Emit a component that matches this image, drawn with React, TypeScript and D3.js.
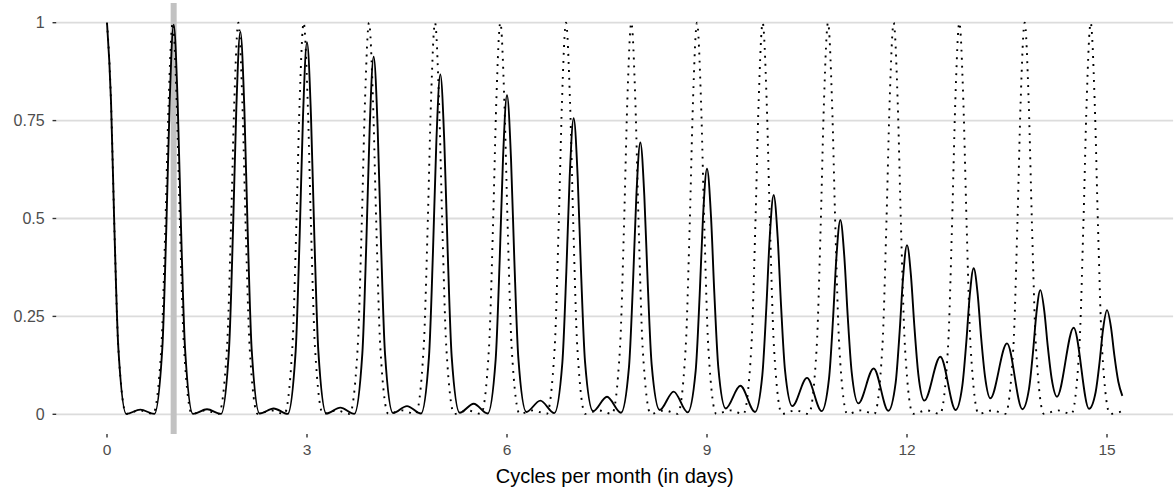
import React from "react";
import * as d3 from "d3";

const W = 1176;
const H = 490;

const xTicks = [0, 3, 6, 9, 12, 15];
const yTicks = [0, 0.25, 0.5, 0.75, 1];
const yTickLabels = ["0", "0.25", "0.5", "0.75", "1"];
const highlightX = 1;
const xTitle = "Cycles per month (in days)";
const xDataRange: [number, number] = [0, 15.23];
const yDataRange: [number, number] = [0, 1];

// solid series: points (x, value)
const solidCurve: [number, number][] = [
  [0, 1], [0.06, 0.8], [0.11, 0.48], [0.17, 0.17], [0.29, 0.001], [0.5, 0.012], [0.71, 0.001],
  [0.83, 0.17], [0.89, 0.478], [0.94, 0.796], [1, 0.995], [1.06, 0.796], [1.11, 0.478], [1.17, 0.17], [1.29, 0.001], [1.5, 0.013], [1.71, 0.001],
  [1.83, 0.166], [1.89, 0.469], [1.94, 0.782], [2, 0.977], [2.06, 0.782], [2.11, 0.469], [2.17, 0.166], [2.29, 0.002], [2.5, 0.015], [2.71, 0.001],
  [2.83, 0.162], [2.89, 0.456], [2.94, 0.76], [3, 0.95], [3.06, 0.76], [3.11, 0.456], [3.17, 0.162], [3.29, 0.002], [3.5, 0.017], [3.71, 0.001],
  [3.83, 0.155], [3.89, 0.438], [3.94, 0.73], [4, 0.913], [4.06, 0.73], [4.11, 0.438], [4.17, 0.155], [4.29, 0.003], [4.5, 0.021], [4.71, 0.002],
  [4.83, 0.148], [4.89, 0.417], [4.94, 0.694], [5, 0.868], [5.06, 0.694], [5.11, 0.417], [5.17, 0.148], [5.29, 0.004], [5.5, 0.027], [5.71, 0.002],
  [5.83, 0.14], [5.89, 0.392], [5.94, 0.652], [6, 0.815], [6.06, 0.653], [6.11, 0.394], [6.17, 0.144], [6.29, 0.006], [6.5, 0.035], [6.71, 0.003],
  [6.83, 0.131], [6.89, 0.364], [6.94, 0.605], [7, 0.756], [7.06, 0.606], [7.11, 0.367], [7.17, 0.135], [7.29, 0.008], [7.5, 0.045], [7.71, 0.004],
  [7.83, 0.121], [7.89, 0.335], [7.94, 0.556], [8, 0.694], [8.06, 0.557], [8.11, 0.339], [8.17, 0.127], [8.29, 0.011], [8.5, 0.058], [8.71, 0.005],
  [8.83, 0.111], [8.89, 0.304], [8.94, 0.503], [9, 0.627], [9.06, 0.505], [9.11, 0.309], [9.17, 0.119], [9.28, 0.015], [9.5, 0.073], [9.72, 0.006],
  [9.83, 0.1], [9.89, 0.272], [9.94, 0.449], [10, 0.56], [10.06, 0.452], [10.11, 0.28], [10.17, 0.113], [10.28, 0.021], [10.5, 0.093], [10.72, 0.008],
  [10.83, 0.091], [10.89, 0.242], [10.94, 0.398], [11, 0.496], [11.06, 0.402], [11.11, 0.253], [11.17, 0.108], [11.27, 0.028], [11.5, 0.117], [11.72, 0.009],
  [11.83, 0.081], [11.89, 0.212], [11.94, 0.347], [12, 0.432], [12.06, 0.353], [12.11, 0.226], [12.17, 0.102], [12.26, 0.035], [12.5, 0.147], [12.73, 0.011],
  [12.83, 0.073], [12.89, 0.185], [12.94, 0.301], [13, 0.373], [13.06, 0.307], [13.11, 0.2], [13.17, 0.097], [13.25, 0.041], [13.5, 0.181], [13.73, 0.013],
  [13.83, 0.065], [13.89, 0.159], [13.94, 0.256], [14, 0.317], [14.06, 0.263], [14.11, 0.176], [14.17, 0.091], [14.25, 0.045], [14.5, 0.221], [14.73, 0.014],
  [14.83, 0.057], [14.89, 0.135], [14.94, 0.216], [15, 0.266], [15.06, 0.222], [15.11, 0.151], [15.17, 0.083], [15.23, 0.047],
];

// dotted series: points (x, value)
const dottedCurve: [number, number][] = [
  [0, 1], [0.06, 0.8], [0.11, 0.48], [0.17, 0.17], [0.29, 0.001], [0.49, 0.01], [0.69, 0.001],
  [0.815, 0.17], [0.875, 0.48], [0.925, 0.8], [0.985, 1], [1.045, 0.8], [1.095, 0.48], [1.155, 0.17], [1.275, 0.001], [1.475, 0.01], [1.675, 0.001],
  [1.8, 0.17], [1.86, 0.48], [1.91, 0.8], [1.97, 1], [2.03, 0.8], [2.08, 0.48], [2.14, 0.17], [2.26, 0.001], [2.46, 0.01], [2.66, 0.001],
  [2.78, 0.17], [2.84, 0.48], [2.89, 0.8], [2.95, 1], [3.01, 0.8], [3.06, 0.48], [3.12, 0.17], [3.24, 0.001], [3.44, 0.01], [3.64, 0.001],
  [3.76, 0.17], [3.82, 0.48], [3.87, 0.8], [3.93, 1], [3.99, 0.8], [4.04, 0.48], [4.1, 0.17], [4.22, 0.001], [4.425, 0.01], [4.63, 0.001],
  [4.75, 0.17], [4.81, 0.48], [4.86, 0.8], [4.92, 1], [4.98, 0.8], [5.03, 0.48], [5.09, 0.17], [5.21, 0.001], [5.41, 0.01], [5.61, 0.001],
  [5.73, 0.17], [5.79, 0.48], [5.84, 0.8], [5.9, 1], [5.96, 0.8], [6.01, 0.48], [6.07, 0.17], [6.19, 0.001], [6.39, 0.01], [6.595, 0.001],
  [6.715, 0.17], [6.775, 0.48], [6.825, 0.8], [6.885, 1], [6.945, 0.8], [6.995, 0.48], [7.055, 0.17], [7.175, 0.001], [7.375, 0.01], [7.575, 0.001],
  [7.695, 0.17], [7.755, 0.48], [7.805, 0.8], [7.865, 1], [7.925, 0.8], [7.975, 0.48], [8.035, 0.17], [8.155, 0.001], [8.36, 0.01], [8.56, 0.001],
  [8.68, 0.17], [8.74, 0.48], [8.79, 0.8], [8.85, 1], [8.91, 0.8], [8.96, 0.48], [9.02, 0.17], [9.14, 0.001], [9.345, 0.01], [9.545, 0.001],
  [9.665, 0.17], [9.725, 0.48], [9.775, 0.8], [9.835, 1], [9.895, 0.8], [9.945, 0.48], [10.005, 0.17], [10.125, 0.001], [10.325, 0.01], [10.525, 0.001],
  [10.645, 0.17], [10.705, 0.48], [10.755, 0.8], [10.815, 1], [10.875, 0.8], [10.925, 0.48], [10.985, 0.17], [11.105, 0.001], [11.31, 0.01], [11.51, 0.001],
  [11.63, 0.17], [11.69, 0.48], [11.74, 0.8], [11.8, 1], [11.86, 0.8], [11.91, 0.48], [11.97, 0.17], [12.09, 0.001], [12.295, 0.01], [12.495, 0.001],
  [12.615, 0.17], [12.675, 0.48], [12.725, 0.8], [12.785, 1], [12.845, 0.8], [12.895, 0.48], [12.955, 0.17], [13.075, 0.001], [13.275, 0.01], [13.475, 0.001],
  [13.595, 0.17], [13.655, 0.48], [13.705, 0.8], [13.765, 1], [13.825, 0.8], [13.875, 0.48], [13.935, 0.17], [14.055, 0.001], [14.26, 0.01], [14.465, 0.001],
  [14.585, 0.17], [14.645, 0.48], [14.695, 0.8], [14.755, 1], [14.815, 0.8], [14.865, 0.48], [14.925, 0.17], [15.045, 0.001], [15.23, 0.008],
];

const FONT = "'Liberation Sans', Arial, Helvetica, sans-serif";

export default function App() {
  const x = d3.scaleLinear().domain([0, 15]).range([107, 1107]);
  const y = d3.scaleLinear().domain([0, 1]).range([414.3, 22.7]);
  const xPad = (xDataRange[1] - xDataRange[0]) * 0.05;
  const yPad = (yDataRange[1] - yDataRange[0]) * 0.05;
  const left = x(xDataRange[0] - xPad);
  const right = x(xDataRange[1] + xPad);
  const top = y(yDataRange[1] + yPad);
  const bottom = y(yDataRange[0] - yPad);

  const line = d3
    .line<[number, number]>()
    .x((d) => x(d[0]))
    .y((d) => y(d[1]))
    .curve(d3.curveMonotoneX);

  return (
    <svg
      width={W}
      height={H}
      viewBox={`0 0 ${W} ${H}`}
      style={{ position: "absolute", left: 0, top: 0, background: "#fff" }}
      fontFamily={FONT}
    >
      <rect x={0} y={0} width={W} height={H} fill="#fff" />
      {yTicks.map((t) => (
        <line key={`g${t}`} x1={left} x2={right} y1={y(t)} y2={y(t)} stroke="#DCDCDC" strokeWidth={1.8} />
      ))}
      <line x1={x(highlightX)} x2={x(highlightX)} y1={top} y2={bottom} stroke="#C2C2C2" strokeWidth={6} />
      <path d={line(dottedCurve) || ""} fill="none" stroke="#000" strokeWidth={1.9} strokeDasharray="1.9 6.1" />
      <path d={line(solidCurve) || ""} fill="none" stroke="#000" strokeWidth={1.9} strokeLinejoin="round" />
      {yTicks.map((t, i) => (
        <g key={`y${t}`}>
          <line x1={left - 3.7} x2={left} y1={y(t)} y2={y(t)} stroke="#333" strokeWidth={1.4} />
          <text x={left - 11.5} y={y(t)} dy="0.36em" textAnchor="end" fontSize={16} fill="#4D4D4D">
            {yTickLabels[i]}
          </text>
        </g>
      ))}
      {xTicks.map((t) => (
        <g key={`x${t}`}>
          <line x1={x(t)} x2={x(t)} y1={bottom} y2={bottom + 3.7} stroke="#333" strokeWidth={1.4} />
          <text x={x(t)} y={455} textAnchor="middle" fontSize={15.5} fill="#4D4D4D">
            {t}
          </text>
        </g>
      ))}
      <text x={(left + right) / 2} y={483} textAnchor="middle" fontSize={20} fill="#000">
        {xTitle}
      </text>
    </svg>
  );
}
